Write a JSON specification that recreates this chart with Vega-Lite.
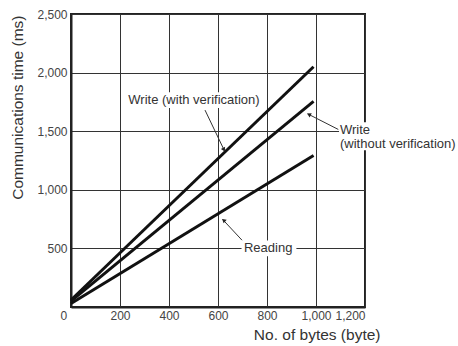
{
  "$schema": "https://vega.github.io/schema/vega-lite/v6.json",
  "width": 294,
  "height": 293,
  "autosize": {"type": "none"},
  "padding": {"left": 71, "top": 14, "right": 93, "bottom": 39},
  "background": "white",
  "config": {
    "view": {"stroke": "#222", "strokeWidth": 2},
    "font": "Liberation Sans",
    "axis": {
      "labelFont": "Liberation Sans",
      "labelFontSize": 12,
      "labelColor": "#444",
      "labelOverlap": false,
      "titleFont": "Liberation Sans",
      "titleFontSize": 15.5,
      "titleFontWeight": "normal",
      "titleColor": "#333",
      "ticks": false,
      "domainColor": "#222",
      "domainWidth": 2,
      "grid": true,
      "gridColor": "#333",
      "gridWidth": 1,
      "gridOpacity": 1
    }
  },
  "datasets": {
    "series": [
      {"series": "Write (with verification)", "bytes": 0, "ms": 60},
      {"series": "Write (with verification)", "bytes": 990, "ms": 2050},
      {"series": "Write (without verification)", "bytes": 0, "ms": 50},
      {"series": "Write (without verification)", "bytes": 990, "ms": 1755},
      {"series": "Reading", "bytes": 0, "ms": 30},
      {"series": "Reading", "bytes": 990, "ms": 1292}
    ],
    "boxes": [
      {"label": "with", "x0": 224, "x1": 792, "y0": 1697, "y1": 1833},
      {"label": "without", "x0": 1094, "x1": 1590, "y0": 1338, "y1": 1577},
      {"label": "reading", "x0": 696, "x1": 920, "y0": 432, "y1": 568}
    ],
    "labels": [
      {"text": "Write (with verification)", "bytes": 234, "ms": 1765},
      {"text": "Write", "bytes": 1098, "ms": 1509},
      {"text": "(without verification)", "bytes": 1098, "ms": 1394},
      {"text": "Reading", "bytes": 706, "ms": 500}
    ],
    "leaders": [
      {"label": "with", "x0": 547, "y0": 1680, "x1": 626, "y1": 1335},
      {"label": "without", "x0": 1091, "y0": 1515, "x1": 966, "y1": 1648},
      {"label": "reading", "x0": 698, "y0": 570, "x1": 619, "y1": 747}
    ],
    "heads": [
      {"label": "with", "bytes": 624, "ms": 1342},
      {"label": "without", "bytes": 971, "ms": 1643},
      {"label": "reading", "bytes": 623, "ms": 740}
    ]
  },
  "layer": [
    {
      "data": {"name": "series"},
      "mark": {"type": "line", "color": "#111", "strokeWidth": 3, "strokeCap": "butt"},
      "encoding": {
        "x": {
          "field": "bytes", "type": "quantitative",
          "scale": {"domain": [0, 1200], "nice": false},
          "axis": {
            "values": [0, 200, 400, 600, 800, 1000, 1200],
            "format": ",d",
            "labelPadding": 3,
            "labelOffset": {"condition": {"test": "datum.value == 0", "value": -11}, "value": 0},
            "title": "No. of bytes (byte)",
            "titleX": 309,
            "titleY": 27,
            "titleAlign": "right",
            "titleBaseline": "middle"
          }
        },
        "y": {
          "field": "ms", "type": "quantitative",
          "scale": {"domain": [0, 2500], "nice": false},
          "axis": {
            "values": [0, 500, 1000, 1500, 2000, 2500],
            "format": ",d",
            "labelPadding": 4,
            "labelExpr": "datum.value == 0 ? '' : datum.label",
            "title": "Communications time (ms)",
            "titleX": -54,
            "titleY": 1,
            "titleAngle": -90,
            "titleAlign": "right",
            "titleBaseline": "middle"
          }
        },
        "detail": {"field": "series"}
      }
    },
    {
      "data": {"name": "boxes"},
      "mark": {"type": "rect", "fill": "white", "stroke": null},
      "encoding": {
        "x": {"field": "x0", "type": "quantitative"},
        "x2": {"field": "x1"},
        "y": {"field": "y0", "type": "quantitative"},
        "y2": {"field": "y1"}
      }
    },
    {
      "data": {"name": "labels"},
      "mark": {"type": "text", "align": "left", "baseline": "middle", "fontSize": 13, "font": "Liberation Sans", "color": "#333"},
      "encoding": {
        "x": {"field": "bytes", "type": "quantitative"},
        "y": {"field": "ms", "type": "quantitative"},
        "text": {"field": "text"}
      }
    },
    {
      "data": {"name": "leaders"},
      "mark": {"type": "rule", "color": "#333", "strokeWidth": 1},
      "encoding": {
        "x": {"field": "x0", "type": "quantitative"},
        "y": {"field": "y0", "type": "quantitative"},
        "x2": {"field": "x1"},
        "y2": {"field": "y1"}
      }
    },
    {
      "data": {"name": "heads"},
      "transform": [{"filter": "datum.label == 'with'"}],
      "mark": {"type": "point", "shape": "triangle-up", "filled": true, "color": "#222", "size": 22, "angle": 154, "opacity": 1},
      "encoding": {
        "x": {"field": "bytes", "type": "quantitative"},
        "y": {"field": "ms", "type": "quantitative"}
      }
    },
    {
      "data": {"name": "heads"},
      "transform": [{"filter": "datum.label == 'without'"}],
      "mark": {"type": "point", "shape": "triangle-up", "filled": true, "color": "#222", "size": 22, "angle": 297, "opacity": 1},
      "encoding": {
        "x": {"field": "bytes", "type": "quantitative"},
        "y": {"field": "ms", "type": "quantitative"}
      }
    },
    {
      "data": {"name": "heads"},
      "transform": [{"filter": "datum.label == 'reading'"}],
      "mark": {"type": "point", "shape": "triangle-up", "filled": true, "color": "#222", "size": 22, "angle": 311, "opacity": 1},
      "encoding": {
        "x": {"field": "bytes", "type": "quantitative"},
        "y": {"field": "ms", "type": "quantitative"}
      }
    }
  ]
}
